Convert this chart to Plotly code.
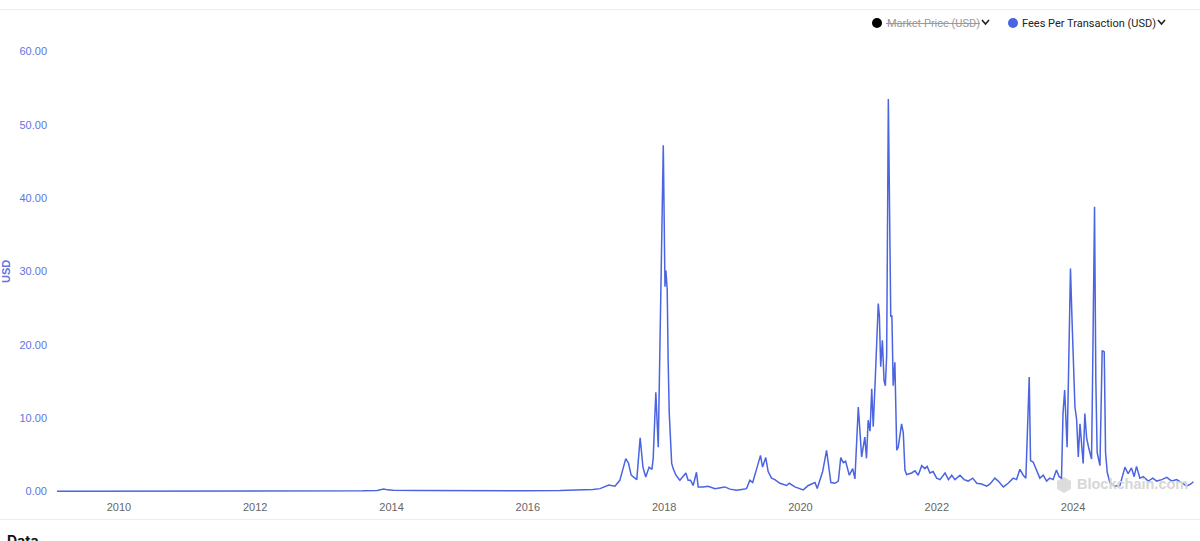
import plotly.graph_objects as go

# ---------------- data ----------------
dates = [
    "2009-02-03", "2009-07-01", "2010-01-01", "2010-07-01", "2011-01-01", "2011-04-15",
    "2011-06-10", "2011-08-01", "2011-12-01", "2012-06-01", "2012-12-01", "2013-04-10",
    "2013-08-01", "2013-10-15", "2013-11-20", "2013-12-10", "2014-01-10", "2014-06-01",
    "2014-12-01", "2015-06-01", "2015-12-01", "2016-06-20", "2016-10-01", "2016-12-15",
    "2017-01-22", "2017-03-10", "2017-04-12", "2017-05-08", "2017-06-09", "2017-06-24",
    "2017-07-08", "2017-08-07", "2017-08-25", "2017-09-09", "2017-09-24", "2017-10-12",
    "2017-10-27", "2017-11-03", "2017-11-17", "2017-11-30", "2017-12-27", "2018-01-05",
    "2018-01-10", "2018-01-17", "2018-01-22", "2018-01-28", "2018-02-10", "2018-02-18",
    "2018-03-05", "2018-03-26", "2018-04-27", "2018-05-09", "2018-05-22", "2018-06-05",
    "2018-06-23", "2018-07-02", "2018-07-29", "2018-08-24", "2018-09-30", "2018-10-27",
    "2018-11-22", "2018-12-19", "2019-01-24", "2019-02-20", "2019-03-18", "2019-04-05",
    "2019-04-20", "2019-05-14", "2019-06-01", "2019-06-12", "2019-06-29", "2019-07-12",
    "2019-07-30", "2019-08-17", "2019-09-13", "2019-10-19", "2019-11-02", "2019-12-02",
    "2019-12-29", "2020-01-16", "2020-02-12", "2020-03-19", "2020-03-31", "2020-04-29",
    "2020-05-20", "2020-05-31", "2020-06-12", "2020-07-04", "2020-07-22", "2020-08-04",
    "2020-08-18", "2020-08-30", "2020-09-19", "2020-10-07", "2020-10-19", "2020-11-06",
    "2020-11-24", "2020-12-11", "2020-12-20", "2020-12-29", "2021-01-08", "2021-01-17",
    "2021-01-25", "2021-02-04", "2021-02-13", "2021-02-21", "2021-02-27", "2021-03-06",
    "2021-03-15", "2021-03-24", "2021-03-31", "2021-04-07", "2021-04-16", "2021-04-29",
    "2021-05-05", "2021-05-12", "2021-05-21", "2021-05-31", "2021-06-08", "2021-06-26",
    "2021-07-05", "2021-07-14", "2021-07-23", "2021-08-19", "2021-09-06", "2021-09-23",
    "2021-10-12", "2021-10-29", "2021-11-10", "2021-11-25", "2021-12-12", "2021-12-31",
    "2022-01-18", "2022-02-14", "2022-03-04", "2022-03-22", "2022-04-08", "2022-05-05",
    "2022-05-27", "2022-06-18", "2022-07-12", "2022-08-03", "2022-08-29", "2022-09-25",
    "2022-10-13", "2022-11-08", "2022-11-26", "2022-12-23", "2023-01-18", "2023-02-14",
    "2023-03-04", "2023-03-22", "2023-04-09", "2023-04-23", "2023-05-11", "2023-05-18",
    "2023-06-01", "2023-06-19", "2023-07-07", "2023-07-25", "2023-08-12", "2023-08-29",
    "2023-09-16", "2023-10-04", "2023-10-18", "2023-10-31", "2023-11-08", "2023-11-17",
    "2023-11-30", "2023-12-07", "2023-12-18", "2023-12-27", "2024-01-02", "2024-01-11",
    "2024-01-20", "2024-01-29", "2024-02-07", "2024-02-16", "2024-02-24", "2024-03-04",
    "2024-03-14", "2024-03-26", "2024-04-09", "2024-04-15", "2024-04-25", "2024-05-02",
    "2024-05-09", "2024-05-24", "2024-06-05", "2024-06-16", "2024-06-23", "2024-07-02",
    "2024-07-16", "2024-08-12", "2024-09-08", "2024-10-05", "2024-10-22", "2024-11-09",
    "2024-11-23", "2024-12-06", "2024-12-24", "2025-01-11", "2025-02-07", "2025-03-03",
    "2025-03-24", "2025-04-20", "2025-05-17", "2025-06-13", "2025-07-09", "2025-08-05",
    "2025-09-01", "2025-09-23", "2025-10-07",
]
fees_usd = [
    0.0, 0.0, 0.0, 0.01, 0.01, 0.02,
    0.08, 0.04, 0.02, 0.03, 0.04, 0.08,
    0.07, 0.12, 0.3, 0.2, 0.15, 0.1,
    0.06, 0.05, 0.07, 0.1, 0.15, 0.25,
    0.37, 0.86, 0.7, 1.5, 4.46, 3.8,
    2.2, 1.6, 7.3, 3.3, 1.95, 3.3,
    3.0, 4.5, 13.5, 6.0, 47.2, 27.9,
    30.1, 27.5, 17.9, 10.6, 3.8, 3.1,
    2.2, 1.5, 2.5, 1.5, 1.5, 0.8,
    2.6, 0.6, 0.6, 0.7, 0.37, 0.5,
    0.6, 0.3, 0.14, 0.25, 0.37, 1.5,
    1.2, 3.3, 4.9, 3.3, 4.6, 2.7,
    1.8, 1.6, 1.1, 0.8, 1.1, 0.6,
    0.4, 0.2, 0.8, 1.2, 0.4, 2.7,
    5.6, 3.6, 1.2, 1.1, 1.4, 4.6,
    3.9, 4.1, 2.2, 3.1, 1.7, 11.5,
    4.7, 7.4, 4.5, 9.7, 8.2, 14.0,
    8.8, 14.7, 22.0, 25.6, 23.9, 17.0,
    20.6, 15.1, 14.4, 18.5, 53.5, 23.8,
    24.0, 14.4, 17.6, 5.6, 6.0, 9.2,
    8.0, 2.9, 2.3, 2.5, 2.8, 2.2,
    3.5, 3.1, 3.4, 2.5, 2.7, 1.8,
    1.6, 2.5, 1.6, 2.2, 1.6, 2.2,
    1.6, 1.4, 1.8, 1.1, 1.0, 0.7,
    1.0, 1.8, 1.4, 0.6, 1.1, 1.8,
    1.6, 3.0, 2.2, 1.8, 15.6, 4.2,
    4.0, 2.8, 1.8, 2.2, 1.4, 1.8,
    1.6, 2.9, 2.0, 1.8, 10.6, 13.8,
    6.0, 15.1, 30.4, 22.9, 18.3, 11.5,
    9.8, 4.7, 9.2, 6.0, 3.8, 10.6,
    7.2, 5.8, 4.4, 16.5, 38.8, 15.1,
    5.3, 3.5, 19.2, 19.0, 5.3, 2.6,
    1.2, 0.7, 0.8, 3.3, 2.4, 3.2,
    2.0, 3.4, 1.8, 2.0, 1.4, 1.8,
    1.4, 1.6, 1.9, 1.4, 1.6, 1.2,
    0.7, 1.0, 1.3,
]
y_tick_vals = [0, 10, 20, 30, 40, 50, 60]
y_tick_text = ["0.00", "10.00", "20.00", "30.00", "40.00", "50.00", "60.00"]
x_tick_vals = ["2010-01-01", "2012-01-01", "2014-01-01", "2016-01-01",
               "2018-01-01", "2020-01-01", "2022-01-01", "2024-01-01"]
x_tick_text = ["2010", "2012", "2014", "2016", "2018", "2020", "2022", "2024"]
legend_labels = ["Market Price (USD)", "Fees Per Transaction (USD)"]

# ---------------- layout constants ----------------
W, H = 1200, 541
ML, MR, MT, MB = 57, 6, 44, 46
PW, PH = W - ML - MR, H - MT - MB
LINE_COLOR = "#4a64e2"
AXIS_BLUE = "#5f74e0"


def px(x):
    return (x - ML) / PW


def py(y):
    return (H - MB - y) / PH


fig = go.Figure()
fig.add_trace(go.Scatter(
    x=dates, y=fees_usd, mode="lines",
    line=dict(color=LINE_COLOR, width=1.5),
    showlegend=False, hoverinfo="x+y",
))

shapes = [
    # top and bottom separators
    dict(type="line", xref="paper", yref="paper", x0=px(0), x1=px(W), y0=py(9.5), y1=py(9.5),
         line=dict(color="#ececec", width=1)),
    dict(type="line", xref="paper", yref="paper", x0=px(0), x1=px(W), y0=py(519.5), y1=py(519.5),
         line=dict(color="#ececec", width=1)),
    # legend dots
    dict(type="circle", xref="paper", yref="paper", x0=px(872), x1=px(882), y0=py(28), y1=py(18),
         fillcolor="#000000", line=dict(width=0)),
    dict(type="circle", xref="paper", yref="paper", x0=px(1008), x1=px(1018), y0=py(28), y1=py(18),
         fillcolor="#4a64e2", line=dict(width=0)),
    # strike-through of hidden series
    dict(type="line", xref="paper", yref="paper", x0=px(886), x1=px(980), y0=py(23.5), y1=py(23.5),
         line=dict(color="#9a9a9a", width=1)),
    # chevrons
    dict(type="path", xref="paper", yref="paper",
         path=f"M {px(982)},{py(20)} L {px(985.5)},{py(24)} L {px(989)},{py(20)}",
         line=dict(color="#222222", width=1.6)),
    dict(type="path", xref="paper", yref="paper",
         path=f"M {px(1158)},{py(20)} L {px(1161.5)},{py(24)} L {px(1165)},{py(20)}",
         line=dict(color="#222222", width=1.6)),
    # watermark icon
    dict(type="path", xref="paper", yref="paper",
         path=(f"M {px(1064)},{py(477)} L {px(1071)},{py(481)} L {px(1071)},{py(489)} "
               f"L {px(1064)},{py(493)} L {px(1057)},{py(489)} L {px(1057)},{py(481)} Z"),
         fillcolor="#dcdcdc", line=dict(width=0), layer="below"),
]

annotations = [
    dict(text=legend_labels[0], x=px(885), y=py(23.5), xref="paper", yref="paper",
         xanchor="left", yanchor="middle", showarrow=False,
         font=dict(family="Roboto, sans-serif", size=11, color="#9a9a9a")),
    dict(text=legend_labels[1], x=px(1020), y=py(23.5), xref="paper", yref="paper",
         xanchor="left", yanchor="middle", showarrow=False,
         font=dict(family="Roboto, sans-serif", size=11, color="#222222")),
    dict(text="<b>USD</b>", x=px(6), y=py(272), xref="paper", yref="paper",
         xanchor="center", yanchor="middle", showarrow=False, textangle=-90,
         font=dict(family="Liberation Sans, Arial, sans-serif", size=11, color=AXIS_BLUE)),
    dict(text="<b>Blockchain.com</b>", x=px(1075), y=py(484), xref="paper", yref="paper",
         xanchor="left", yanchor="middle", showarrow=False,
         font=dict(family="Liberation Sans, Arial, sans-serif", size=14.5, color="#d6d6d6")),
    dict(text="<b>Data</b>", x=px(5), y=py(530), xref="paper", yref="paper",
         xanchor="left", yanchor="top", showarrow=False,
         font=dict(family="Inter, Roboto, sans-serif", size=14, color="#111111")),
]

fig.update_layout(
    width=W, height=H,
    margin=dict(l=ML, r=MR, t=MT, b=MB, pad=0),
    paper_bgcolor="white", plot_bgcolor="white",
    showlegend=False,
    shapes=shapes, annotations=annotations,
    xaxis=dict(
        type="date", range=["2009-02-03", "2025-10-10"],
        tickvals=x_tick_vals, ticktext=x_tick_text,
        showgrid=False, zeroline=False, showline=False, ticks="",
        ticklabelstandoff=4,
        tickfont=dict(family="Liberation Sans, Arial, sans-serif", size=11, color="#666666"),
    ),
    yaxis=dict(
        range=[-0.5, 61],
        tickvals=y_tick_vals, ticktext=y_tick_text,
        showgrid=False, zeroline=False, showline=False, ticks="",
        ticklabelstandoff=9,
        tickfont=dict(family="Liberation Sans, Arial, sans-serif", size=11, color=AXIS_BLUE),
    ),
)

fig.write_html(
    "out.html",
    config={"displayModeBar": False},
    post_script="document.body.style.margin='0';document.body.style.overflow='hidden';",
)
